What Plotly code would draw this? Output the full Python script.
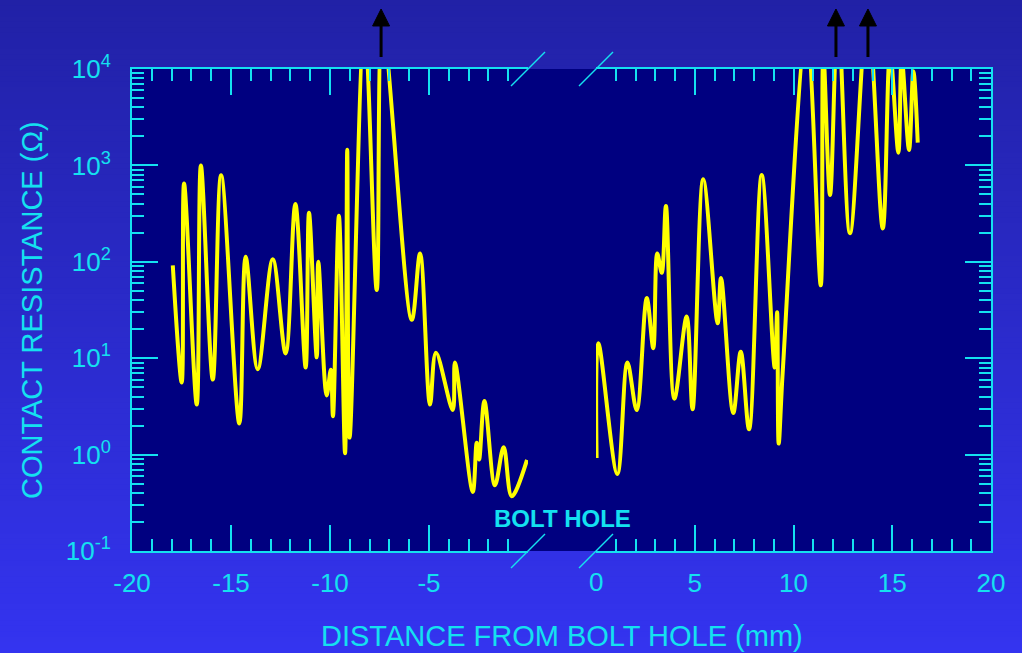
import plotly.graph_objects as go

# Contact resistance readings on either side of the bolt hole
left_x = [-17.94, -17.49, -17.37, -16.73, -16.52, -15.92, -15.50, -14.58, -14.26,
          -13.65, -12.89, -12.24, -11.75, -11.23, -11.06, -10.67, -10.59, -10.17,
          -9.96, -9.85, -9.55, -9.24, -9.13, -9.01, -8.26, -7.64, -7.35, -5.87,
          -5.45, -4.95, -4.65, -3.80, -3.69, -2.79, -2.59, -2.47, -2.20, -1.67,
          -1.23, -0.82, -0.05]
left_r = [92, 5.6, 650, 3.3, 1000, 6.0, 790, 2.1, 113,
          7.7, 106, 11.2, 398, 8.0, 323, 10.2, 100, 4.1,
          7.6, 2.5, 300, 1.03, 1450, 1.5, 30000, 51, 30000, 25,
          122, 3.3, 11.4, 2.9, 9.0, 0.41, 1.33, 0.89, 3.6, 0.48,
          1.19, 0.37, 0.88]

right_x = [0.03, 0.12, 1.08, 1.59, 2.06, 2.57, 2.90, 3.10, 3.33, 3.54, 3.97,
           4.59, 4.89, 5.43, 6.16, 6.33, 6.95, 7.33, 7.75, 8.39, 9.05, 9.17,
           9.25, 9.45, 10.66, 11.38, 11.51, 11.85, 12.25, 12.86, 13.75, 14.52,
           14.89, 15.31, 15.48, 15.85, 16.07, 16.29]
right_r = [0.92, 14.3, 0.63, 9.0, 2.9, 42, 12.7, 122, 77, 379, 3.8,
           27, 2.95, 718, 23, 68, 2.7, 11.7, 1.83, 795, 8, 30,
           1.3, 7, 25000, 57, 15000, 493, 40000, 198, 40000, 222,
           15000, 1356, 13000, 1445, 9500, 1720]

# Off-scale readings flagged with arrows above the frame
offscale_left = [-7.42]
offscale_right = [12.15, 13.77]

x_left_ticks = [-20, -15, -10, -5]
x_left_text = ["-20", "-15", "-10", "-5"]
x_right_ticks = [5, 10, 15, 20]
x_right_text = ["5", "10", "15", "20"]
x_left_minor = [v for v in range(-19, 0) if v % 5]
x_right_minor = [v for v in range(1, 20) if v % 5]
y_tick_vals = [0.1, 1, 10, 100, 1000, 10000]
y_tick_text = ["10<sup>-1</sup>", "10<sup>0</sup>", "10<sup>1</sup>",
               "10<sup>2</sup>", "10<sup>3</sup>", "10<sup>4</sup>"]

CYAN = "#14e1f0"
YELLOW = "#ffff00"
NAVY = "#000080"
FONT = "Liberation Sans, Arial, sans-serif"

W, H = 1022, 653
ML, MR, MT, MB = 132, 31, 69, 102
PW, PH = W - ML - MR, H - MT - MB
GAP_L, GAP_R = 528, 596          # pixel ends of the two x-axis segments
dom_left = [0, (GAP_L - ML) / PW]
dom_right = [(GAP_R - ML) / PW, 1]
RANGE_L = [-20, 0]
RANGE_R = [0, 20]


def px_left(v):
    return dom_left[0] + (v - RANGE_L[0]) / (RANGE_L[1] - RANGE_L[0]) * (dom_left[1] - dom_left[0])


def px_right(v):
    return dom_right[0] + (v - RANGE_R[0]) / (RANGE_R[1] - RANGE_R[0]) * (dom_right[1] - dom_right[0])


fig = go.Figure()
line_style = dict(color=YELLOW, width=4, shape="spline", smoothing=1.0)
fig.add_trace(go.Scatter(x=left_x, y=left_r, mode="lines", line=line_style,
                         xaxis="x", yaxis="y", hoverinfo="skip"))
fig.add_trace(go.Scatter(x=right_x, y=right_r, mode="lines", line=line_style,
                         xaxis="x2", yaxis="y2", hoverinfo="skip"))

minor_y = [k * 10.0 ** e for e in range(-1, 4) for k in range(2, 10)]
TICKFONT = dict(family=FONT, size=26, color=CYAN)

common_x = dict(showline=True, linecolor=CYAN, linewidth=2, mirror="allticks",
                ticks="inside", ticklen=26, tickwidth=2, tickcolor=CYAN,
                showgrid=False, zeroline=False, tickmode="array",
                tickfont=TICKFONT, ticklabelstandoff=8)


def minor_x(vals):
    return dict(ticks="inside", ticklen=12, tickwidth=2, tickcolor=CYAN,
                tickmode="array", tickvals=vals, showgrid=False)


common_y = dict(type="log", range=[-1, 4], showline=True, linecolor=CYAN,
                linewidth=2, ticks="inside", ticklen=26, tickwidth=2,
                tickcolor=CYAN, showgrid=False, zeroline=False,
                tickmode="array", tickvals=y_tick_vals, ticktext=y_tick_text,
                minor=dict(ticks="inside", ticklen=12, tickwidth=2,
                           tickcolor=CYAN, tickmode="array", tickvals=minor_y,
                           showgrid=False))

fig.update_layout(
    width=W, height=H,
    margin=dict(l=ML, r=MR, t=MT, b=MB, pad=0),
    paper_bgcolor="#2626b0",
    plot_bgcolor="rgba(0,0,0,0)",
    showlegend=False,
    xaxis=dict(domain=dom_left, range=RANGE_L, anchor="y",
               tickvals=x_left_ticks, ticktext=x_left_text,
               minor=minor_x(x_left_minor), **common_x),
    xaxis2=dict(domain=dom_right, range=RANGE_R, anchor="y2",
                tickvals=x_right_ticks, ticktext=x_right_text,
                minor=minor_x(x_right_minor), **common_x),
    yaxis=dict(anchor="x", side="left", ticklabelstandoff=14,
               tickfont=TICKFONT, **common_y),
    yaxis2=dict(anchor="x2", side="right", matches="y", showticklabels=False,
                **common_y),
)

shapes = []
# vertical background gradient
n = 120
top_c = (33, 33, 166)
bot_c = (52, 52, 240)
for i in range(n):
    t = (i + 0.5) / n
    c = tuple(round(top_c[j] + (bot_c[j] - top_c[j]) * t) for j in range(3))
    py0 = i * H / n
    py1 = (i + 1) * H / n + 1
    shapes.append(dict(type="rect", xref="paper", yref="paper", layer="below",
                       x0=-ML / PW - 0.01, x1=1 + MR / PW + 0.01,
                       y0=(H - MB - py1) / PH, y1=(H - MB - py0) / PH,
                       fillcolor="rgb(%d,%d,%d)" % c, line=dict(width=0)))
# plotting frame fill, spanning the gap as well
shapes.append(dict(type="rect", xref="paper", yref="paper", layer="below",
                   x0=0, x1=1, y0=0, y1=1, fillcolor=NAVY, line=dict(width=0)))

# axis-break slashes at both ends of the gap, top and bottom
dxp = 17 / PW
dyp = 17 / PH
for xc in (px_left(0), px_right(0)):
    for yc in (0, 1):
        shapes.append(dict(type="line", xref="paper", yref="paper",
                           x0=xc - dxp, x1=xc + dxp, y0=yc - dyp, y1=yc + dyp,
                           line=dict(color=CYAN, width=1.5)))

# arrows for off-scale peaks
half_w = 8.5 / PW
y_stem0 = (H - MB - 57) / PH
y_base = (H - MB - 26) / PH
y_tip = (H - MB - 9) / PH
arrow_x = [px_left(v) for v in offscale_left] + [px_right(v) for v in offscale_right]
for xp in arrow_x:
    shapes.append(dict(type="line", xref="paper", yref="paper", x0=xp, x1=xp,
                       y0=y_stem0, y1=y_base + 0.005,
                       line=dict(color="black", width=3)))
    shapes.append(dict(type="path", xref="paper", yref="paper",
                       path="M %f,%f L %f,%f L %f,%f Z" % (
                           xp - half_w, y_base, xp + half_w, y_base, xp, y_tip),
                       fillcolor="black", line=dict(color="black", width=1)))
fig.update_layout(shapes=shapes)

# "0" label of the right segment (its tick is hidden by the break)
fig.add_annotation(text="0", xref="paper", yref="paper", x=px_right(0),
                   y=(H - MB - 582) / PH, showarrow=False, font=TICKFONT,
                   xanchor="center", yanchor="middle")
fig.add_annotation(text="BOLT HOLE", xref="paper", yref="paper",
                   x=(562 - ML) / PW, y=(H - MB - 518) / PH, showarrow=False,
                   font=dict(family=FONT, size=24, color=CYAN, weight="bold"),
                   xanchor="center", yanchor="middle")
fig.add_annotation(text="DISTANCE FROM BOLT HOLE (mm)", xref="paper", yref="paper",
                   x=(562 - ML) / PW, y=(H - MB - 636) / PH, showarrow=False,
                   font=dict(family=FONT, size=29, color=CYAN),
                   xanchor="center", yanchor="middle")
fig.add_annotation(text="CONTACT RESISTANCE (Ω)", xref="paper", yref="paper",
                   x=(32 - ML) / PW, y=(H - MB - 310) / PH, showarrow=False,
                   textangle=-90,
                   font=dict(family=FONT, size=29, color=CYAN),
                   xanchor="center", yanchor="middle")

fig.write_html("out.html")
